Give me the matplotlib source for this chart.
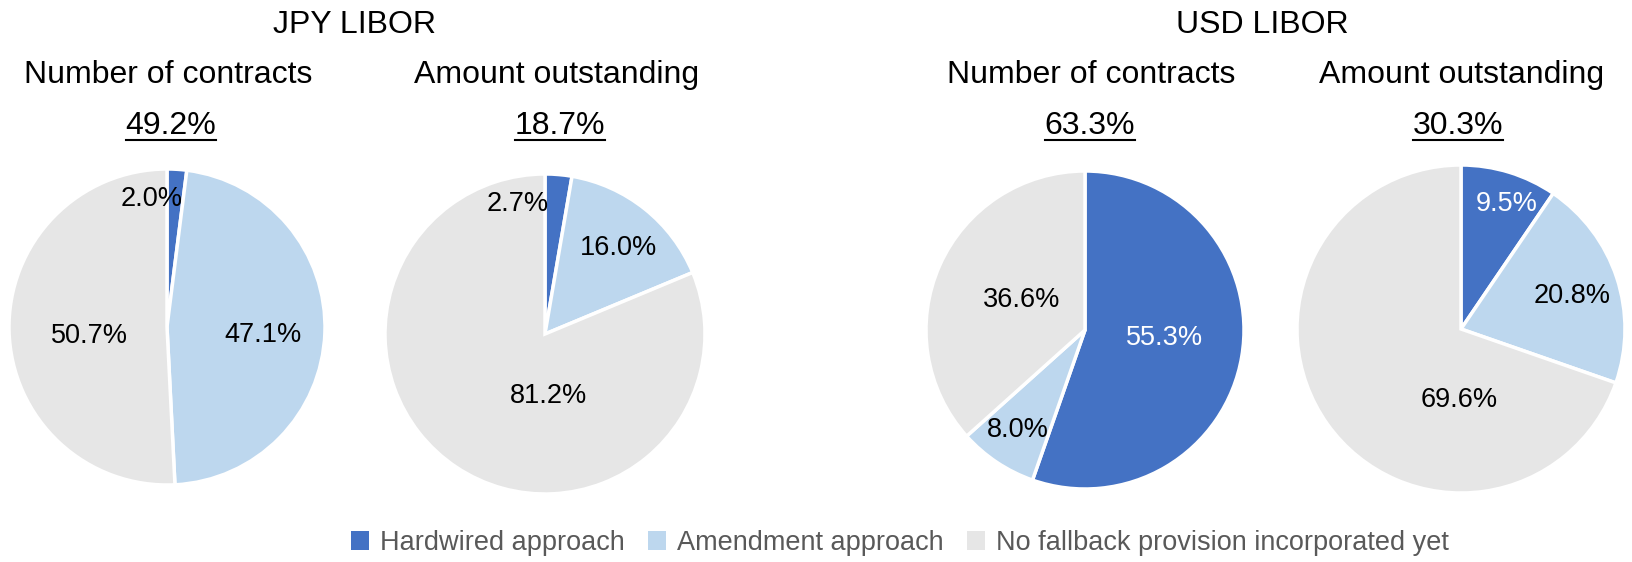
import matplotlib
matplotlib.use("Agg")
import matplotlib.pyplot as plt
from matplotlib.patches import Patch
from matplotlib.lines import Line2D

plt.rcParams['font.family'] = ['Liberation Sans', 'DejaVu Sans']

W, H = 1633, 562
DPI = 100

# ---- data ----
categories = ["Hardwired approach", "Amendment approach", "No fallback provision incorporated yet"]
jpy_contracts = [2.0, 47.1, 50.7]
jpy_amount = [2.7, 16.0, 81.2]
usd_contracts = [55.3, 8.0, 36.6]
usd_amount = [9.5, 20.8, 69.6]
group_titles = ["JPY LIBOR", "USD LIBOR"]
sub_titles = ["Number of contracts", "Amount outstanding", "Number of contracts", "Amount outstanding"]
headline_pcts = ["49.2%", "18.7%", "63.3%", "30.3%"]

series = [jpy_contracts, jpy_amount, usd_contracts, usd_amount]

# ---- style / layout ----
colors = ["#4472C4", "#BDD7EE", "#E6E6E6"]
# pie centers and radii (pixels)
pie_geom = [(167, 327, 158), (545, 334, 160), (1085, 330, 159), (1461, 329, 164)]
# label positions relative to center, in radius units (per pie, per slice)
label_pos = [
    [(-0.095, 0.81), (0.61, -0.05), (-0.49, -0.06)],
    [(-0.17, 0.81), (0.46, 0.54), (0.02, -0.39)],
    [(0.50, -0.05), (-0.42, -0.63), (-0.40, 0.19)],
    [(0.28, 0.76), (0.68, 0.20), (-0.01, -0.43)],
]
label_color_override = [
    ["black", "black", "black"],
    ["black", "black", "black"],
    ["white", "black", "black"],
    ["white", "black", "black"],
]
title_x = [355, 1262]
sub_x = [168, 557, 1091, 1462]
pct_x = [171, 560, 1090, 1458]

fig = plt.figure(figsize=(W / DPI, H / DPI), dpi=DPI)
fig.patch.set_facecolor("white")

def fx(px):
    return px / W

def fy(py):
    return 1 - py / H

for i, vals in enumerate(series):
    cx, cy, r = pie_geom[i]
    ax = fig.add_axes([fx(cx - r), fy(cy + r), 2 * r / W, 2 * r / H])
    wedges, _ = ax.pie(vals, colors=colors, startangle=90, counterclock=False,
                       radius=1, wedgeprops=dict(edgecolor="white", linewidth=2.5))
    ax.set_xlim(-1.0, 1.0)
    ax.set_ylim(-1.0, 1.0)
    ax.set_aspect("equal")
    ax.axis("off")
    for j, v in enumerate(vals):
        lx, ly = label_pos[i][j]
        ax.text(lx, ly, f"{v:.1f}%", ha="center", va="center", fontsize=19.5,
                color=label_color_override[i][j])

# titles
for k, t in enumerate(group_titles):
    fig.text(fx(title_x[k]), fy(25), t, ha="center", va="center", fontsize=23, color="black")
for k, t in enumerate(sub_titles):
    fig.text(fx(sub_x[k]), fy(75), t, ha="center", va="center", fontsize=23, color="black")

pct_texts = []
for k, t in enumerate(headline_pcts):
    txt = fig.text(fx(pct_x[k]), fy(126), t, ha="center", va="center", fontsize=23, color="black")
    pct_texts.append(txt)

# underline the headline percentages
fig.canvas.draw()
renderer = fig.canvas.get_renderer()
for txt in pct_texts:
    bb = txt.get_window_extent(renderer)
    yline = fy(140)
    fig.add_artist(Line2D([bb.x0 / W, bb.x1 / W], [yline, yline], color="black", linewidth=1.5,
                          transform=fig.transFigure))

# legend
handles = [Patch(facecolor=c, edgecolor="none") for c in colors]
leg = fig.legend(handles, categories, loc="center", bbox_to_anchor=(fx(900), fy(543)),
                 ncol=3, frameon=False, fontsize=19.5, handlelength=0.68, handleheight=0.68,
                 handletextpad=0.4, columnspacing=0.85, borderpad=0, borderaxespad=0)
for t in leg.get_texts():
    t.set_color("#595959")

fig.savefig("out.png", dpi=DPI, facecolor="white")
